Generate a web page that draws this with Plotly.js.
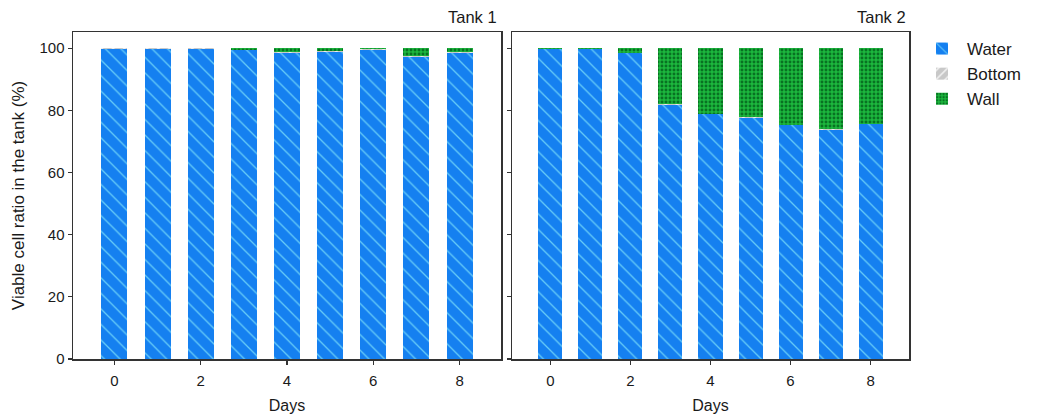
<!DOCTYPE html>
<html>
<head>
<meta charset="utf-8">
<script src="https://cdn.plot.ly/plotly-3.0.1.min.js"></script>
<style>html,body{margin:0;padding:0;background:#fff;}#chart{width:1063px;height:414px;}</style>
</head>
<body>
<div id="chart"></div>
<script>
const days = [0, 1, 2, 3, 4, 5, 6, 7, 8];
const tank1Water  = [99.8, 99.8, 99.8, 99.3, 98.6, 98.9, 99.4, 97.2, 98.5];
const tank1Bottom = [0.1, 0.1, 0.1, 0.2, 0.2, 0.2, 0.2, 0.2, 0.2];
const tank1Wall   = [0.1, 0.1, 0.1, 0.5, 1.2, 0.9, 0.4, 2.6, 1.3];
const tank2Water  = [99.6, 99.6, 98.3, 81.7, 78.7, 77.5, 75.2, 73.7, 75.5];
const tank2Bottom = [0.1, 0.1, 0.2, 0.2, 0.2, 0.2, 0.2, 0.2, 0.2];
const tank2Wall   = [0.3, 0.3, 1.5, 18.1, 21.1, 22.3, 24.6, 26.1, 24.3];
const seriesNames = ['Water', 'Bottom', 'Wall'];
const tickVals = [0, 2, 4, 6, 8];
const tickText = ['0', '2', '4', '6', '8'];

const styles = {
  Water:  {color: '#1580f0', pattern: {shape: '\\', fgcolor: '#66ccf8', bgcolor: '#1580f0', size: 11, solidity: 0.12}},
  Bottom: {color: '#c8c8c8', pattern: {shape: '/', fgcolor: '#f0f0f0', bgcolor: '#c8c8c8', size: 8, solidity: 0.25}},
  Wall:   {color: '#16a834', pattern: {shape: '.', fgcolor: '#087222', bgcolor: '#1cb83e', size: 4, solidity: 0.42}}
};

function mk(name, y, xa, ya, show) {
  return {
    type: 'bar', name: name, x: days, y: y, xaxis: xa, yaxis: ya,
    width: 0.6, showlegend: show, legendgroup: name,
    marker: {color: styles[name].color, pattern: styles[name].pattern, line: {width: 0}}
  };
}
const t1 = [tank1Water, tank1Bottom, tank1Wall];
const t2 = [tank2Water, tank2Bottom, tank2Wall];
const data = [];
seriesNames.forEach((n, i) => data.push(mk(n, t1[i], 'x', 'y', true)));
seriesNames.forEach((n, i) => data.push(mk(n, t2[i], 'x2', 'y2', false)));

const font = {family: 'Liberation Sans, Arial, sans-serif', color: '#1a1a1a'};
const axCommon = {
  showline: true, mirror: true, linecolor: '#333', linewidth: 1.5,
  ticks: 'outside', ticklen: 4, tickcolor: '#333', tickwidth: 1.2,
  showgrid: false, zeroline: false, fixedrange: true
};
const W = 1063, H = 414;
const layout = {
  width: W, height: H,
  margin: {l: 0, r: 0, t: 0, b: 0},
  paper_bgcolor: '#fff', plot_bgcolor: '#fff',
  barmode: 'stack',
  font: Object.assign({size: 15}, font),
  showlegend: true,
  legend: {x: 917 / W, y: 1 - 31 / H, xanchor: 'left', yanchor: 'top',
           font: Object.assign({size: 17}, font), traceorder: 'normal',
           itemwidth: 40, tracegroupgap: 4},
  xaxis: Object.assign({}, axCommon, {domain: [73 / W, 501 / W], range: [-0.96, 8.96],
          tickvals: tickVals, ticktext: tickText, anchor: 'y', tickfont: Object.assign({size: 15}, font),
          ticklabelstandoff: 3,
          title: {text: 'Days', font: Object.assign({size: 16}, font), standoff: 12}}),
  yaxis: Object.assign({}, axCommon, {domain: [1 - 359 / H, 1 - 32 / H], range: [0, 105.2],
          tickvals: [0, 20, 40, 60, 80, 100], anchor: 'x', tickfont: Object.assign({size: 15}, font),
          title: {text: 'Viable cell ratio in the tank (%)', font: Object.assign({size: 17}, font), standoff: 10}}),
  xaxis2: Object.assign({}, axCommon, {domain: [512 / W, 909 / W], range: [-0.96, 8.96],
          tickvals: tickVals, ticktext: tickText, anchor: 'y2', tickfont: Object.assign({size: 15}, font),
          ticklabelstandoff: 3,
          title: {text: 'Days', font: Object.assign({size: 16}, font), standoff: 12}}),
  yaxis2: Object.assign({}, axCommon, {domain: [1 - 359 / H, 1 - 32 / H], range: [0, 105.2],
          tickvals: [0, 20, 40, 60, 80, 100], showticklabels: false, anchor: 'x2'}),
  annotations: [
    {text: 'Tank 1', xref: 'paper', yref: 'paper', x: 499 / W, y: 1 - 17 / H, xanchor: 'right', yanchor: 'middle',
     showarrow: false, font: Object.assign({size: 16.5}, font)},
    {text: 'Tank 2', xref: 'paper', yref: 'paper', x: 908 / W, y: 1 - 17 / H, xanchor: 'right', yanchor: 'middle',
     showarrow: false, font: Object.assign({size: 16.5}, font)}
  ]
};
Plotly.newPlot('chart', data, layout, {displayModeBar: false, staticPlot: true});
</script>
</body>
</html>
